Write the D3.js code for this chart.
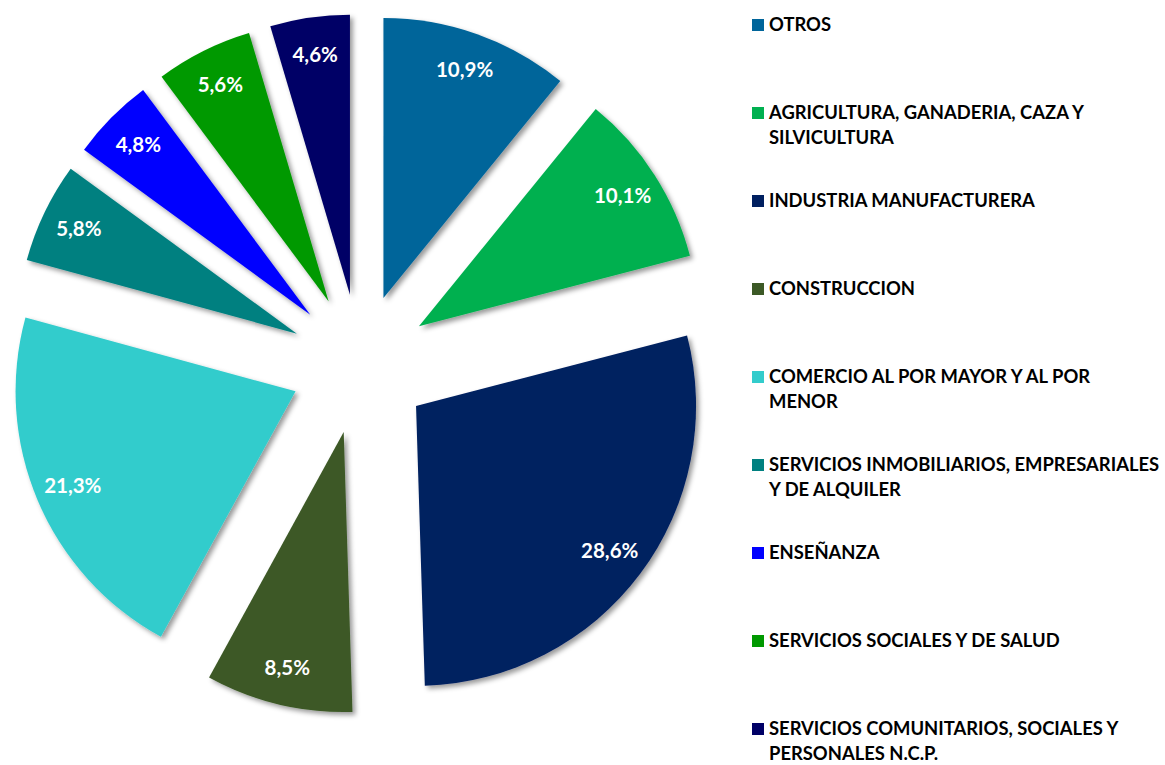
<!DOCTYPE html>
<html>
<head>
<meta charset="utf-8">
<script src="https://cdn.jsdelivr.net/npm/d3@7"></script>
<style>
  html, body { margin: 0; padding: 0; background: #ffffff; }
  svg { display: block; }
</style>
</head>
<body>
<svg id="chart" width="1165" height="765"></svg>
<script>
const categories = [
  "OTROS",
  "AGRICULTURA, GANADERIA, CAZA Y\nSILVICULTURA",
  "INDUSTRIA MANUFACTURERA",
  "CONSTRUCCION",
  "COMERCIO AL POR MAYOR Y AL POR\nMENOR",
  "SERVICIOS INMOBILIARIOS, EMPRESARIALES\nY DE ALQUILER",
  "ENSEÑANZA",
  "SERVICIOS SOCIALES Y DE SALUD",
  "SERVICIOS COMUNITARIOS, SOCIALES Y\nPERSONALES N.C.P."
];
const values = [10.9, 10.1, 28.6, 8.5, 21.3, 5.8, 4.8, 5.6, 4.6];
const colors = ["#00659A", "#00B050", "#002060", "#3C5926", "#33CCCC", "#008080", "#0000FF", "#009900", "#000066"];

const svg = d3.select("#chart");
const cx = 360, cy = 364, R = 280, explode = 70, labelR = 242;

const defs = svg.append("defs");
const f = defs.append("filter").attr("id", "shadow")
  .attr("x", "-20%").attr("y", "-20%").attr("width", "140%").attr("height", "140%");
f.append("feDropShadow").attr("dx", 3).attr("dy", 3).attr("stdDeviation", 2.5)
  .attr("flood-color", "#000").attr("flood-opacity", 0.4);

const locale = d3.formatLocale({decimal: ",", thousands: ".", grouping: [3], currency: ["", ""]});
const fmt = locale.format(".1f");

const pie = d3.pie().sort(null).value(d => d.v);
const arc = d3.arc().innerRadius(0).outerRadius(R);
const data = values.map((v, i) => ({v, i, name: categories[i], color: colors[i]}));
const arcs = pie(data);

const g = svg.append("g").attr("transform", `translate(${cx},${cy})`);
const slices = g.selectAll("g.slice").data(arcs).join("g")
  .attr("class", "slice")
  .attr("transform", d => {
    const a = (d.startAngle + d.endAngle) / 2;
    return `translate(${explode * Math.sin(a)},${-explode * Math.cos(a)})`;
  });

slices.append("path")
  .attr("d", arc)
  .attr("fill", d => d.data.color)
  .attr("filter", "url(#shadow)");

slices.append("text")
  .attr("x", d => labelR * Math.sin((d.startAngle + d.endAngle) / 2))
  .attr("y", d => -labelR * Math.cos((d.startAngle + d.endAngle) / 2))
  .attr("dy", "0.35em")
  .attr("text-anchor", "middle")
  .attr("fill", "#ffffff")
  .attr("font-family", "Lato, 'Open Sans', sans-serif")
  .attr("font-weight", "bold")
  .attr("font-size", 20.5)
  .text(d => fmt(d.data.v) + "%");

// Legend
const legX = 752, legY0 = 25, legStep = 88.0, lineH = 24.5, sq = 12;
const leg = svg.append("g");
const items = leg.selectAll("g.item").data(data).join("g")
  .attr("class", "item")
  .attr("transform", (d, i) => `translate(${legX},${legY0 + i * legStep})`);
items.append("rect")
  .attr("x", 0).attr("y", -sq / 2).attr("width", sq).attr("height", sq)
  .attr("fill", d => d.color);
const txt = items.append("text")
  .attr("x", 17)
  .attr("font-family", "Lato, 'Open Sans', sans-serif")
  .attr("font-weight", "bold")
  .attr("font-size", 18.4)
  .attr("fill", "#000000");
txt.selectAll("tspan").data(d => d.name.split("\n")).join("tspan")
  .attr("x", 17)
  .attr("y", (s, j) => j * lineH)
  .attr("dy", "0.35em")
  .text(s => s);
</script>
</body>
</html>
